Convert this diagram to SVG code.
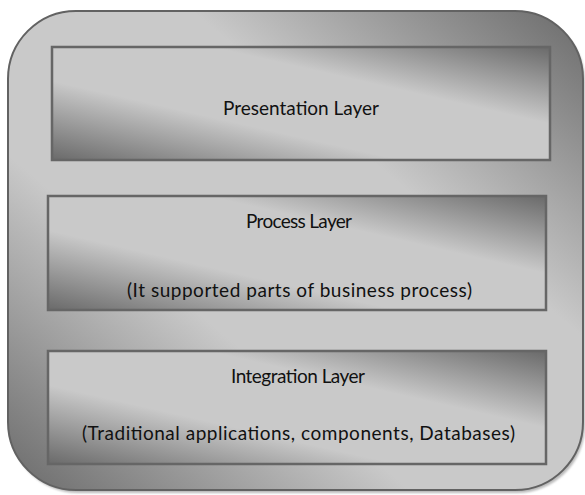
<svg xmlns="http://www.w3.org/2000/svg" width="585" height="495" viewBox="0 0 585 495">
  <defs>
    <linearGradient id="g" x1="0" y1="1" x2="1" y2="0">
      <stop offset="0" stop-color="#6a6a6a"/>
      <stop offset="0.35" stop-color="#c9c9c9"/>
      <stop offset="0.66" stop-color="#c9c9c9"/>
      <stop offset="1" stop-color="#6a6a6a"/>
    </linearGradient>
    <filter id="blur" x="-5%" y="-5%" width="110%" height="110%">
      <feGaussianBlur stdDeviation="1.2"/>
    </filter>
  </defs>
  <style>
    .outer { fill: url(#g); stroke: #626262; stroke-width: 2; }
    .shadow { fill: #8c8c8c; opacity: 0.6; }
    .box { fill: url(#g); stroke: #666666; stroke-width: 2.5; }
    .t { font-family: Lato, "Liberation Sans", sans-serif; font-size: 19px; fill: #111111; text-anchor: middle; }
  </style>
  <rect width="585" height="495" fill="#ffffff"/>
  <g id="container">
    <rect class="shadow" x="10" y="14" width="575" height="479" rx="68" ry="68" filter="url(#blur)"/>
    <rect class="outer" x="8" y="11" width="575" height="479" rx="68" ry="68"/>
  </g>
  <g id="presentation">
    <rect class="box" x="52" y="47" width="498" height="113"/>
    <text class="t" x="301" y="115" textLength="156" lengthAdjust="spacing">Presentation Layer</text>
  </g>
  <g id="process">
    <rect class="box" x="48" y="196" width="498" height="114"/>
    <text class="t" x="299" y="228" textLength="106" lengthAdjust="spacing">Process Layer</text>
    <text class="t" x="299.5" y="297" textLength="345" lengthAdjust="spacing">(It supported parts of business process)</text>
  </g>
  <g id="integration">
    <rect class="box" x="48" y="351" width="498" height="113"/>
    <text class="t" x="298" y="383" textLength="134" lengthAdjust="spacing">Integration Layer</text>
    <text class="t" x="298.5" y="440" textLength="433" lengthAdjust="spacing">(Traditional applications, components, Databases)</text>
  </g>
  <g id="connectors"/>
</svg>
